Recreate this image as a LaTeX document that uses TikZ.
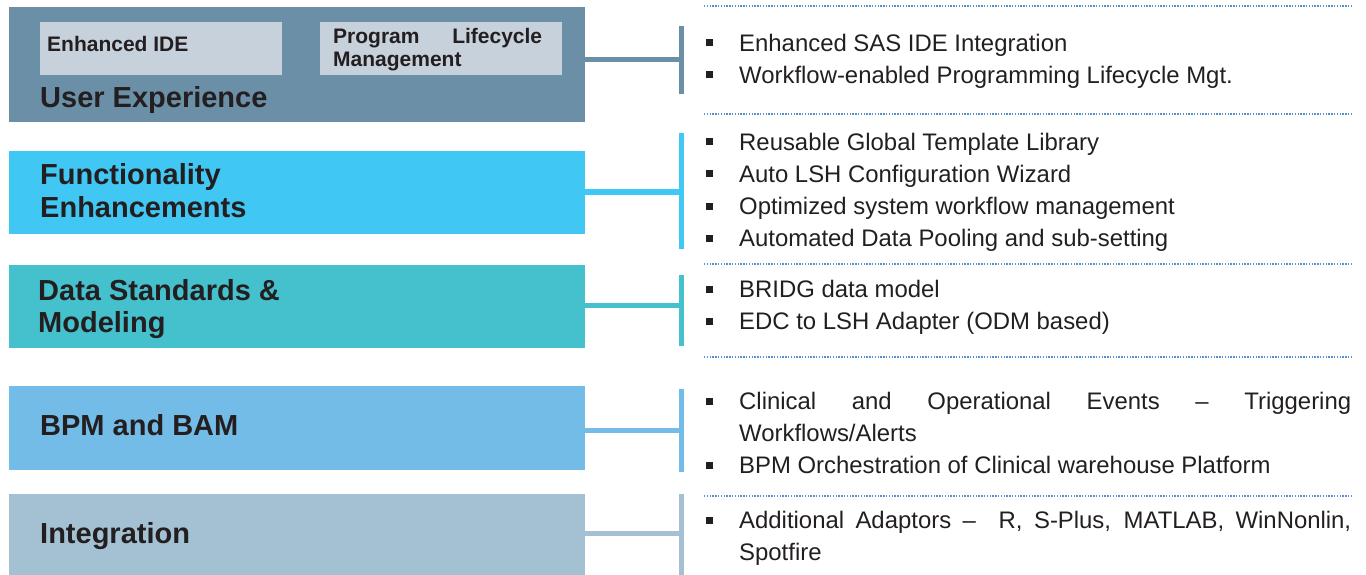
\documentclass[tikz,border=0pt]{standalone}
\usepackage{fontspec}
\setmainfont{Liberation Sans}
\definecolor{cUX}{HTML}{6B8FA7}
\definecolor{cIn}{HTML}{C6D1DB}
\definecolor{cFn}{HTML}{40C7F4}
\definecolor{cDs}{HTML}{44C1CD}
\definecolor{cBp}{HTML}{73BCE7}
\definecolor{cIg}{HTML}{A3C1D3}
\definecolor{txt}{HTML}{231F20}
\definecolor{dotc}{HTML}{5A8FCC}
\tikzset{
  bigbox/.style={draw=none, anchor=north west, inner sep=0pt, minimum width=576pt},
  inbox/.style={draw=none, fill=cIn, anchor=north west, inner sep=0pt, minimum width=242pt, minimum height=53pt},
  lbl/.style={anchor=base west, inner sep=0pt, text=txt, font=\bfseries\fontsize{29}{32}\selectfont},
  inlbl/.style={anchor=base west, inner sep=0pt, text=txt, font=\bfseries\fontsize{21}{24}\selectfont},
  item/.style={anchor=base west, inner sep=0pt, text=txt, font=\fontsize{23.9}{32}\selectfont},
  bul/.style={fill=txt, draw=none, inner sep=0pt, minimum size=7pt},
  conn/.style={line width=5pt},
  dotline/.style={dotc, line width=1.3pt, dash pattern=on 1.3pt off 1.5pt}
}
\begin{document}
\begin{tikzpicture}[x=1pt,y=-1pt]
\useasboundingbox (0,0) rectangle (1366,575);
% boxes
\node[bigbox, fill=cUX, minimum height=115pt] (ux) at (9,7) {};
\node[inbox] (ide) at (40,22) {};
\node[inbox] (plm) at (320,22) {};
\node[bigbox, fill=cFn, minimum height=83pt] (fn) at (9,151) {};
\node[bigbox, fill=cDs, minimum height=83pt] (ds) at (9,265) {};
\node[bigbox, fill=cBp, minimum height=84pt] (bp) at (9,386) {};
\node[bigbox, fill=cIg, minimum height=81pt] (ig) at (9,494) {};
% labels
\node[inlbl] (ideT) at (47,52) {Enhanced IDE};
\node[inlbl] (plmT1) at (333,44) {\makebox[209pt][s]{Program Lifecycle}};
\node[inlbl] (plmT2) at (333,67) {Management};
\node[lbl] (uxT) at (40,107.5) {User Experience};
\node[lbl] (fnT1) at (40,185) {Functionality};
\node[lbl] (fnT2) at (40,217) {Enhancements};
\node[lbl] (dsT1) at (38,300) {Data Standards \&};
\node[lbl] (dsT2) at (38,332) {Modeling};
\node[lbl] (bpT) at (40,435) {BPM and BAM};
\node[lbl] (igT) at (40,543) {Integration};
% bars and connectors
\coordinate (uxA) at (681.5,26);  \coordinate (uxM) at (681.5,60);  \coordinate (uxB) at (681.5,94);
\coordinate (fnA) at (681.5,133); \coordinate (fnM) at (681.5,192); \coordinate (fnB) at (681.5,249);
\coordinate (dsA) at (681.5,275); \coordinate (dsM) at (681.5,305); \coordinate (dsB) at (681.5,346);
\coordinate (bpA) at (681.5,389); \coordinate (bpM) at (681.5,430); \coordinate (bpB) at (681.5,472);
\coordinate (igA) at (681.5,494); \coordinate (igM) at (681.5,533); \coordinate (igB) at (681.5,575);
\draw[conn, cUX] (uxA) -- (uxB);  \draw[conn, cUX] (ux.east |- uxM) -- (uxM);
\draw[conn, cFn] (fnA) -- (fnB);  \draw[conn, cFn] (fn.east |- fnM) -- (fnM);
\draw[conn, cDs] (dsA) -- (dsB);  \draw[conn, cDs] (ds.east |- dsM) -- (dsM);
\draw[conn, cBp] (bpA) -- (bpB);  \draw[conn, cBp] (bp.east |- bpM) -- (bpM);
\draw[conn, cIg] (igA) -- (igB);  \draw[conn, cIg] (ig.east |- igM) -- (igM);
% dotted separators
\foreach \yy/\nm in {6/d1,114/d2,264/d3,357/d4,496/d5}{
  \coordinate (\nm L) at (704,\yy); \coordinate (\nm R) at (1352,\yy);
  \draw[dotline] (\nm L) -- (\nm R);
}
% bullets
\foreach \yy/\nm in {43/b1,75/b2,142/b3,174/b4,206/b5,238/b6,289/b7,321/b8,401/b9,465/b10,520/b11}{
  \node[bul] (\nm) at (709.5,\yy) {};
}
% items
\node[item] (i1) at (739,51.5) {Enhanced SAS IDE Integration};
\node[item] (i2) at (739,83.5) {Workflow-enabled Programming Lifecycle Mgt.};
\node[item] (i3) at (739,150.5) {Reusable Global Template Library};
\node[item] (i4) at (739,182.5) {Auto LSH Configuration Wizard};
\node[item] (i5) at (739,214.5) {Optimized system workflow management};
\node[item] (i6) at (739,246.5) {Automated Data Pooling and sub-setting};
\node[item] (i7) at (739,297.5) {BRIDG data model};
\node[item] (i8) at (739,329.5) {EDC to LSH Adapter (ODM based)};
\node[item] (i9a) at (739,409.5) {\makebox[612pt][s]{Clinical and Operational Events – Triggering}};
\node[item] (i9b) at (739,441.5) {Workflows/Alerts};
\node[item] (i10) at (739,473.5) {BPM Orchestration of Clinical warehouse Platform};
\node[item] (i11a) at (739,528.5) {\makebox[612pt][s]{Additional Adaptors –\ \ R, S-Plus, MATLAB, WinNonlin,}};
\node[item] (i11b) at (739,560.5) {Spotfire};
\end{tikzpicture}
\end{document}
